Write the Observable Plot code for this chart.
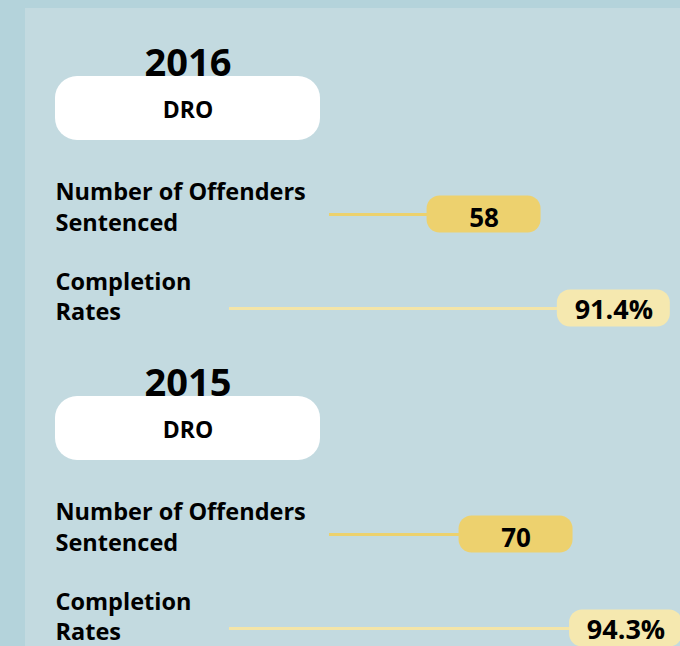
<!DOCTYPE html>
<html><head><meta charset="utf-8">
<script src="https://cdn.jsdelivr.net/npm/d3@7"></script>
<script src="https://cdn.jsdelivr.net/npm/@observablehq/plot@0.6"></script>
<style>
html,body{margin:0;padding:0;width:680px;height:646px;overflow:hidden;background:#b4d3db;}
#wrap{position:absolute;left:25px;top:8px;width:655px;height:640px;background:#c3dae0;overflow:hidden;}
#wrap svg{position:absolute;left:0;top:0;}
</style></head><body><div id="wrap"></div>
<script>
// ---- data ----
const years = [2016, 2015];
const programs = ["DRO", "DRO"];
const offenders = [58, 70];
const completionRates = [91.4, 94.3];
const metricLabels = ["Number of Offenders\nSentenced", "Completion\nRates"];
const rowKeys = ["head", "count", "rate"];

const table = years.map((year, i) => ({
  year,
  program: programs[i],
  offenders: offenders[i],
  rate: completionRates[i],
  rateLabel: completionRates[i].toFixed(1) + "%"
}));

// ---- layout ----
const W = 655, H = 640;
const font = "'Open Sans', 'DejaVu Sans', sans-serif";
const common = {
  width: W, height: H, margin: 0,
  style: {background: "transparent", fontFamily: font},
  fy: {domain: years, padding: 0, axis: null},
  y: {type: "point", domain: rowKeys, padding: 0, insetTop: 100, insetBottom: 20, axis: null}
};

const plotA = Plot.plot({
  ...common,
  x: {domain: [0, 100], range: [304, 570.5], axis: null},
  marks: [
    Plot.rect(table, {fy: "year", y1: () => "head", y2: () => "head",
      insetLeft: 30, insetRight: 360, insetTop: -32, insetBottom: -32, rx: 22, fill: "white"}),
    Plot.text(table, {fy: "year", y: () => "head", text: d => String(d.year),
      frameAnchor: "left", textAnchor: "middle", dx: 162.5, dy: -45,
      fontSize: 38, fontWeight: 700, fontFamily: font, fill: "#000"}),
    Plot.text(table, {fy: "year", y: () => "head", text: "program",
      frameAnchor: "left", textAnchor: "middle", dx: 162.5, dy: 2,
      fontSize: 23, fontWeight: 700, fontFamily: font, fill: "#000"}),
    Plot.text(table, {fy: "year", y: () => "count", text: () => metricLabels[0],
      frameAnchor: "left", textAnchor: "start", dx: 30, dy: -3, lineHeight: 1.33,
      fontSize: 23.5, fontWeight: 700, fontFamily: font, fill: "#000"}),
    Plot.text(table, {fy: "year", y: () => "rate", text: () => metricLabels[1],
      frameAnchor: "left", textAnchor: "start", dx: 30, dy: -13, lineHeight: 1.27,
      fontSize: 23.5, fontWeight: 700, fontFamily: font, fill: "#000"}),
    Plot.ruleY(table, {fy: "year", y: () => "count", x1: 0, x2: "offenders",
      stroke: "#ecd16d", strokeWidth: 3, dy: 6}),
    Plot.rect(table, {fy: "year", y1: () => "count", y2: () => "count", x1: "offenders", x2: "offenders",
      insetLeft: -57, insetRight: -57, insetTop: -18.5, insetBottom: -18.5,
      rx: 13, fill: "#edd16e", dy: 6}),
    Plot.text(table, {fy: "year", y: () => "count", x: "offenders", text: d => String(d.offenders),
      fontSize: 26, fontWeight: 700, fontFamily: font, fill: "#000", dy: 9.7})
  ]
});

const plotB = Plot.plot({
  ...common,
  x: {domain: [0, 100], range: [204, 624.5], axis: null},
  marks: [
    Plot.ruleY(table, {fy: "year", y: () => "rate", x1: 0, x2: "rate",
      stroke: "#f4e5a8", strokeWidth: 3}),
    Plot.rect(table, {fy: "year", y1: () => "rate", y2: () => "rate", x1: "rate", x2: "rate",
      insetLeft: -56.5, insetRight: -56.5, insetTop: -18.5, insetBottom: -18.5,
      rx: 13, fill: "#f5e8af"}),
    Plot.text(table, {fy: "year", y: () => "rate", x: "rate", text: "rateLabel",
      fontSize: 27, fontWeight: 700, fontFamily: font, fill: "#000", dy: 2})
  ]
});

const wrap = document.getElementById("wrap");
wrap.appendChild(plotA);
wrap.appendChild(plotB);
</script>
</body></html>
